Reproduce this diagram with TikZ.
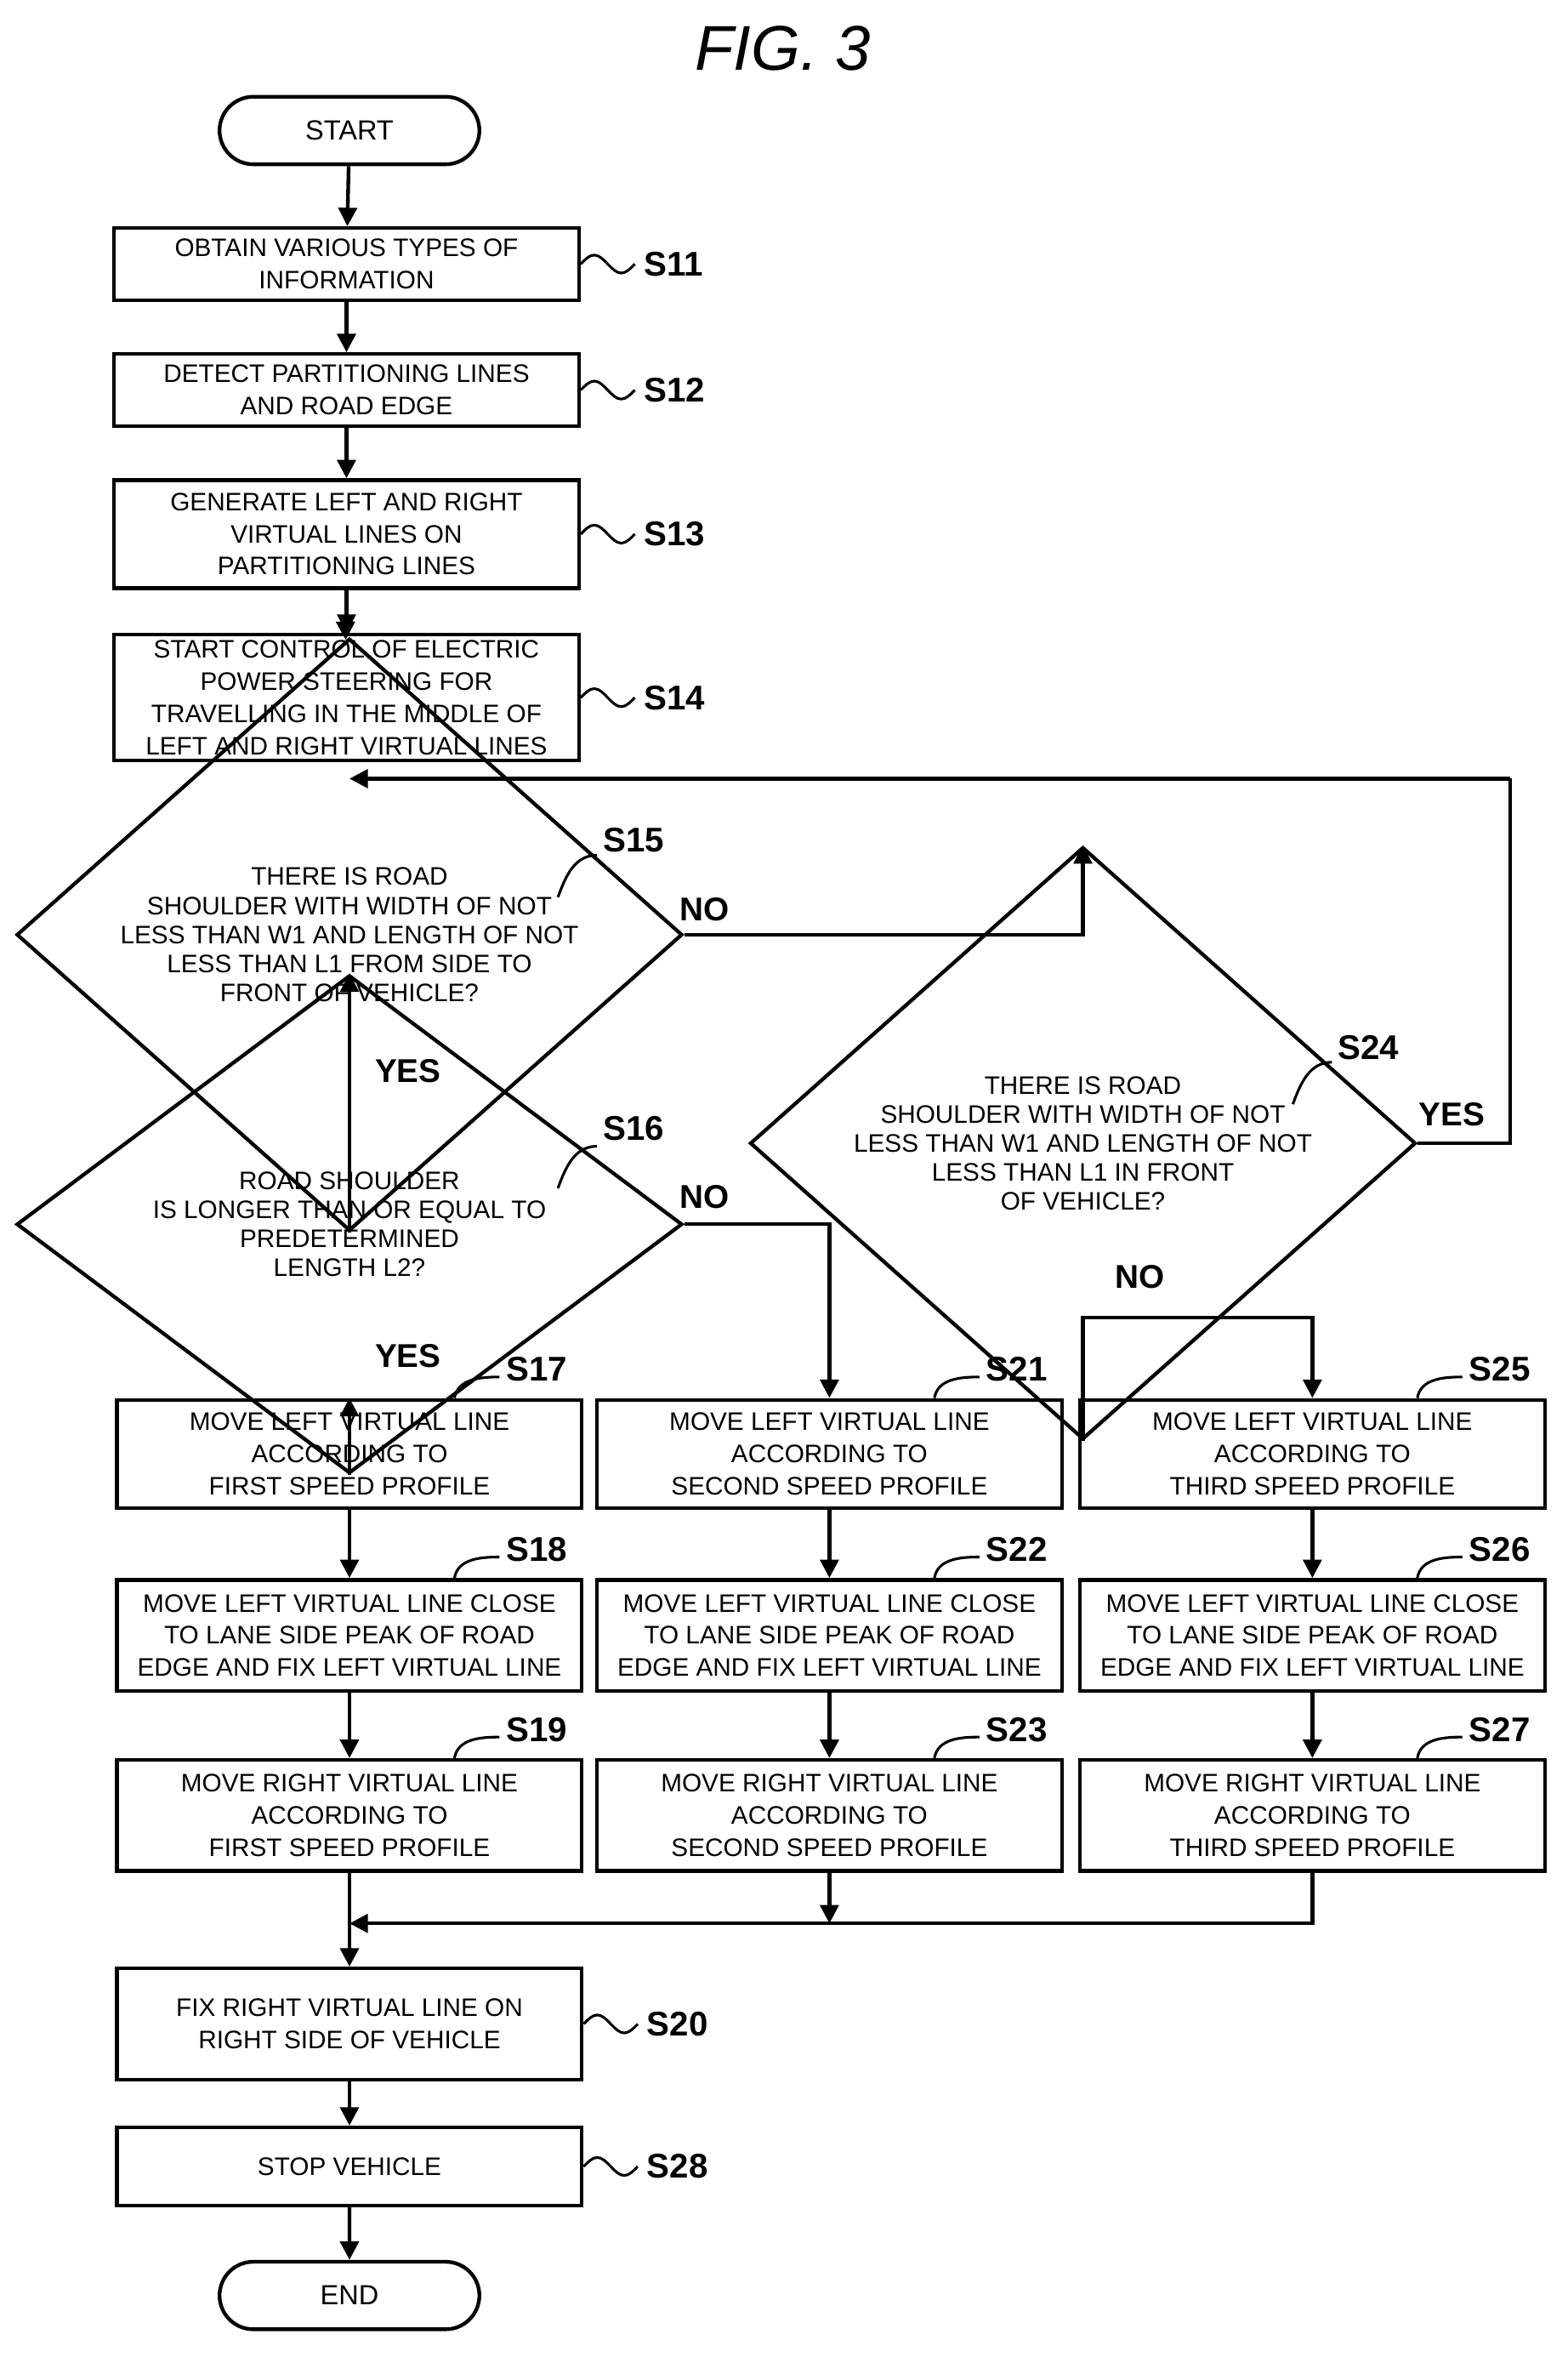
\documentclass[tikz,border=0pt]{standalone}
\usepackage{fontspec}
\setmainfont{Liberation Sans}
\usetikzlibrary{shapes.geometric,shapes.misc,arrows.meta}

\tikzset{
    proc/.style = {draw, line width=1.4pt, rectangle, minimum width=6.2cm, inner sep=1pt,
        align=center, font=\fontsize{9.6}{12.2}\selectfont},
    term/.style = {draw, line width=1.4pt, rounded rectangle, minimum width=3.7cm, minimum height=0.9cm,
        font=\fontsize{10.5}{12}\selectfont},
    test/.style = {draw, line width=1.4pt, diamond, minimum width=8.88cm, minimum height=2.98cm, inner sep=0pt,
        align=center, font=\fontsize{9.6}{11}\selectfont},
    tag/.style = {font=\fontsize{13}{14}\selectfont\bfseries, inner sep=1pt},
    ans/.style = {font=\fontsize{12.5}{14}\selectfont\bfseries, inner sep=1pt},
    flow/.style = {line width=1.4pt, -{Triangle[length=7pt,width=7pt]}},
    link/.style = {line width=1.4pt},
    lead/.style = {line width=1pt},
}

\begin{document}
\begin{tikzpicture}[x=0.02cm, y=-0.02cm]
\useasboundingbox (0,0) rectangle (1045,1571);

\node[font=\fontsize{24}{26}\selectfont\itshape] (title) at (522,32) {FIG. 3};

% main column
\node[term] (start) at (233,87) {START};
\node[proc, minimum height=0.96cm] (s11) at (231,176) {OBTAIN VARIOUS TYPES OF\\INFORMATION};
\node[proc, minimum height=0.96cm] (s12) at (231,260) {DETECT PARTITIONING LINES\\AND ROAD EDGE};
\node[proc, minimum height=1.44cm] (s13) at (231,356) {GENERATE LEFT AND RIGHT\\VIRTUAL LINES ON\\PARTITIONING LINES};
\node[proc, minimum height=1.68cm] (s14) at (231,465) {START CONTROL OF ELECTRIC\\POWER STEERING FOR\\TRAVELLING IN THE MIDDLE OF\\LEFT AND RIGHT VIRTUAL LINES};

\node[test] (s15) at (233,623) {THERE IS ROAD\\SHOULDER WITH WIDTH OF NOT\\LESS THAN W1 AND LENGTH OF NOT\\LESS THAN L1 FROM SIDE TO\\FRONT OF VEHICLE?};
\node[test] (s16) at (233,816) {ROAD SHOULDER\\IS LONGER THAN OR EQUAL TO\\PREDETERMINED\\LENGTH L2?};
\node[test] (s24) at (722,762) {THERE IS ROAD\\SHOULDER WITH WIDTH OF NOT\\LESS THAN W1 AND LENGTH OF NOT\\LESS THAN L1 IN FRONT\\OF VEHICLE?};

% three branches
\foreach \n/\x/\w in {s17/233/FIRST, s21/553/SECOND, s25/875/THIRD}
    \node[proc, minimum height=1.44cm] (\n) at (\x,969) {MOVE LEFT VIRTUAL LINE\\ACCORDING TO\\\w\ SPEED PROFILE};
\foreach \n/\x in {s18/233, s22/553, s26/875}
    \node[proc, minimum height=1.48cm] (\n) at (\x,1090) {MOVE LEFT VIRTUAL LINE CLOSE\\TO LANE SIDE PEAK OF ROAD\\EDGE AND FIX LEFT VIRTUAL LINE};
\foreach \n/\x/\w in {s19/233/FIRST, s23/553/SECOND, s27/875/THIRD}
    \node[proc, minimum height=1.48cm] (\n) at (\x,1210) {MOVE RIGHT VIRTUAL LINE\\ACCORDING TO\\\w\ SPEED PROFILE};

\node[proc, minimum height=1.48cm] (s20) at (233,1349) {FIX RIGHT VIRTUAL LINE ON\\RIGHT SIDE OF VEHICLE};
\node[proc, minimum height=1.04cm] (s28) at (233,1444) {STOP VEHICLE};
\node[term] (end) at (233,1530) {END};

% connectors
\draw[flow] (start) -- (s11);
\draw[flow] (s11) -- (s12);
\draw[flow] (s12) -- (s13);
\draw[flow] (s13) -- (s14);
\coordinate (back) at (233,519);
\draw[flow] (s14) -- (s15);
\draw[flow] (s15) -- (s16);
\draw[flow] (s15.east) -| (s24.north);
\draw[link] (s24.east) -| (1007,519);
\draw[flow] (1007,519) -- (back);
\draw[flow] (s16) -- (s17);
\draw[flow] (s16.east) -| (s21.north);
\draw[flow] (s24.south) |- (875,878) -- (s25.north);
\foreach \a/\b in {s17/s18, s18/s19, s21/s22, s22/s23, s25/s26, s26/s27}
    \draw[flow] (\a) -- (\b);
\coordinate (merge) at (233,1282);
\draw[flow] (s23.south) -- (553,1282);
\draw[flow] (s27.south) |- (merge);
\draw[flow] (s19) -- (s20);
\draw[flow] (s20) -- (s28);
\draw[flow] (s28) -- (end);

% answers
\node[ans] at (470,606) {NO};
\node[ans] at (272,714) {YES};
\node[ans] at (470,798) {NO};
\node[ans] at (272,904) {YES};
\node[ans] at (968,743) {YES};
\node[ans] at (760,851) {NO};

% side tags
\foreach \n/\t in {s11/S11, s12/S12, s13/S13, s14/S14, s20/S20, s28/S28} {
    \draw[lead] (\n.east) sin ++(9,-6) cos ++(9,6) sin ++(9,6) cos ++(9,-6);
    \node[tag, anchor=west] at ([xshift=0.8cm]\n.east) {\t};
}
% top tags
\foreach \n/\t in {s17/S17, s21/S21, s25/S25, s18/S18, s22/S22, s26/S26, s19/S19, s23/S23, s27/S27} {
    \draw[lead] ([xshift=1.4cm]\n.north) to[out=80,in=180] ++(30,-14);
    \node[tag, anchor=west] at ([xshift=2.05cm,yshift=0.38cm]\n.north) {\t};
}
% diamond tags
\draw[lead] (372,598) to[out=70,in=180] (398,570);
\node[tag, anchor=west] at (400,560) {S15};
\draw[lead] (372,792) to[out=70,in=180] (398,764);
\node[tag, anchor=west] at (400,752) {S16};
\draw[lead] (862,736) to[out=70,in=180] (888,708);
\node[tag, anchor=west] at (890,698) {S24};
\end{tikzpicture}
\end{document}
